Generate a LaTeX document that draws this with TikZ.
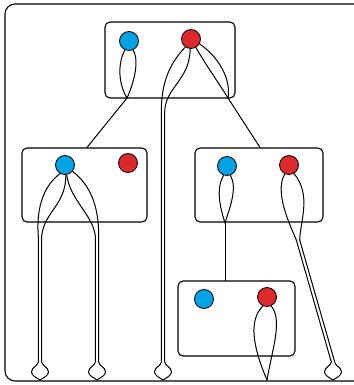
\documentclass[tikz,border=0pt]{standalone}
\usepackage{xcolor}
\usepackage{tikz}
\definecolor{dotblue}{RGB}{0,163,228}
\definecolor{dotred}{RGB}{221,40,46}
\tikzset{
  frame/.style={draw, rounded corners=10pt, line width=1.1pt},
  panel/.style={draw, rectangle, rounded corners=5pt, line width=1.1pt,
    inner sep=0pt},
  dot/.style={circle, draw, line width=0.8pt, minimum size=19pt, inner sep=0pt},
  bluedot/.style={dot, fill=dotblue},
  reddot/.style={dot, fill=dotred},
  strand/.style={line width=1pt, line cap=round, line join=round}
}

\begin{document}
\begin{tikzpicture}[x=1pt,y=-1pt]
  \useasboundingbox (0,0) rectangle (353,385);
  % outer frame
  \draw[frame] (5,4) rectangle (364,381);

  % panels
  \node[panel, minimum width=130pt, minimum height=76pt] (tbox) at (170,60) {};
  \node[panel, minimum width=125pt, minimum height=74pt] (lbox) at (84.5,185) {};
  \node[panel, minimum width=128pt, minimum height=74pt] (rbox) at (259,185) {};
  \node[panel, minimum width=117pt, minimum height=75pt] (bbox) at (236.5,318.5) {};

  % dots
  \node[bluedot] (tblue) at (129,41) {};
  \node[reddot]  (tred)  at (191,39) {};
  \node[bluedot] (lblue) at (65,165) {};
  \node[reddot]  (lred)  at (128,163) {};
  \node[bluedot] (rblue) at (227,166) {};
  \node[reddot]  (rred)  at (289,165) {};
  \node[bluedot] (bblue) at (204,299) {};
  \node[reddot]  (bred)  at (267,297) {};

  % tips where loops close
  \coordinate (ttipl) at (127,98);
  \coordinate (ttipr) at (228,98);
  \coordinate (rtip)  at (225,223);
  \coordinate (btip)  at (267,380);

  % top panel loops
  \draw[strand] (tblue.245) .. controls (117,65) and (119,85) .. (ttipl);
  \draw[strand] (tblue.295) .. controls (140,62) and (133,85) .. (ttipl);
  \draw[strand] (tred.-60) .. controls (204,62) and (220,85) .. (ttipr);
  \draw[strand] (tred.-30) .. controls (220,58) and (231,80) .. (ttipr);
  \draw[strand] (tred.235) .. controls (168,65) and (161.3,85) .. (161.3,112);
  \draw[strand] (tred.265) .. controls (190,80) and (164.7,88) .. (164.7,112);
  \draw[strand] (ttipl) -- ([xshift=2.5pt]lbox.north);
  \draw[strand] (ttipr) -- ([xshift=1pt]rbox.north);

  % left panel loops
  \draw[strand] (lblue.240) .. controls (45,185) and (36,205) .. (38.3,236);
  \draw[strand] (lblue.275) .. controls (66,205) and (44,212) .. (41.7,236);
  \draw[strand] (lblue.-40) .. controls (90,185) and (98.7,205) .. (98.7,236);
  \draw[strand] (lblue.-80) .. controls (70,200) and (93,215) .. (95.3,236);

  % right panel loops
  \draw[strand] (rblue.250) .. controls (215,190) and (221,210) .. (rtip);
  \draw[strand] (rblue.290) .. controls (238,188) and (229,210) .. (rtip);
  \draw[strand] (rtip) -- (rtip |- bbox.north);
  \draw[strand] (rred.245) .. controls (274,192) and (290,225) .. (296.3,240);
  \draw[strand] (rred.-60) .. controls (312,195) and (300,222) .. (299.7,240);

  % bottom panel loop
  \draw[strand] (bred.245) .. controls (249,320) and (252,345) .. (btip);
  \draw[strand] (bred.-65) .. controls (283,320) and (272,350) .. (btip);

  % long stems with bulbs
  \foreach \c/\t/\y in {40/40/236, 97/97/236, 163/163/112, 333/298/240} {
    \draw[strand] (\t-1.7,\y) -- (\c-1.7,362)
      .. controls (\c-2,366) and (\c-8.5,367) .. (\c-8.5,372)
      .. controls (\c-8.5,375.5) and (\c-3,378) .. (\c,380);
    \draw[strand] (\t+1.7,\y) -- (\c+1.7,362)
      .. controls (\c+2,366) and (\c+8.5,367) .. (\c+8.5,372)
      .. controls (\c+8.5,375.5) and (\c+3,378) .. (\c,380);
  }
\end{tikzpicture}
\end{document}
